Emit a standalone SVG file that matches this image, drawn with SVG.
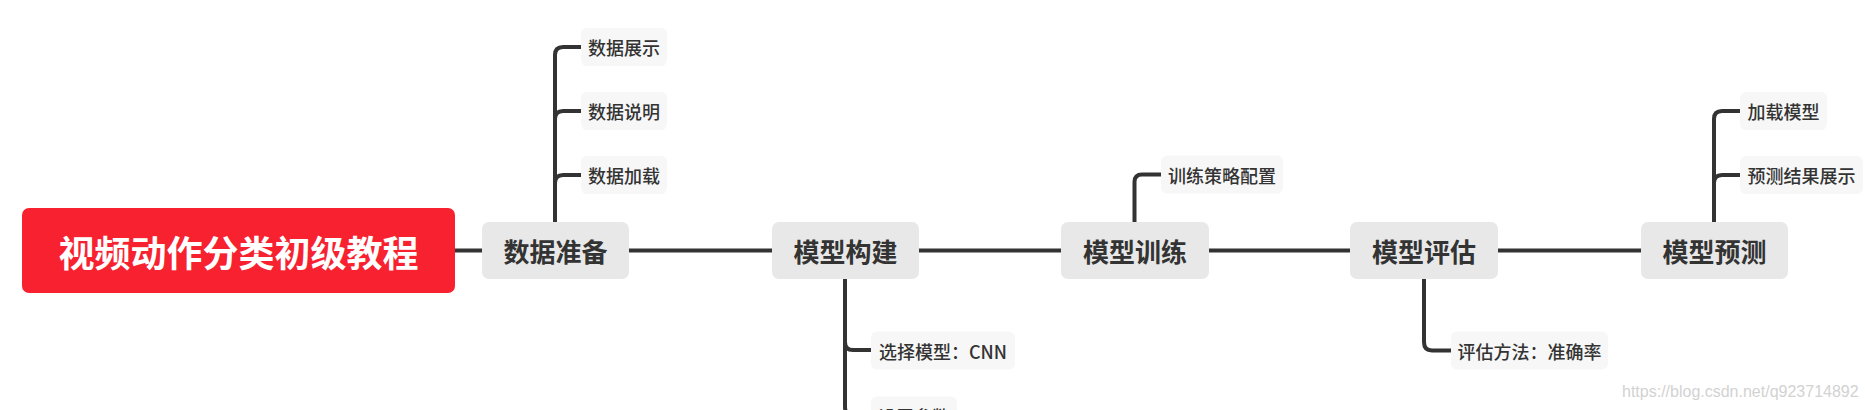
<svg xmlns="http://www.w3.org/2000/svg" width="1865" height="410" viewBox="0 0 1865 410">
<style>
text{font-family:"Noto Sans CJK SC","Noto Sans",sans-serif;text-anchor:middle;dominant-baseline:central}
.main rect{fill:#e8e8e8}
.main text{font-size:26px;font-weight:700;fill:#333}
.sub rect{fill:#f7f7f7}
.sub text{font-size:18px;font-weight:500;fill:#333}
.conn path{fill:none;stroke:#333;stroke-width:4;stroke-linecap:butt}
.wm{font-family:"Liberation Sans",Arial,sans-serif;font-size:16px;fill:#d2d2d2;text-anchor:start}
</style>
<rect width="1865" height="410" fill="#fff"/>
<g class="conn" id="connectors">
<path d="M455 250.5H1641"/>
<path d="M555 222V55Q555 47 563 47H581"/>
<path d="M555 222V119Q555 111 563 111H581"/>
<path d="M555 222V183Q555 175 563 175H581"/>
<path d="M845 279V342Q845 350 853 350H871"/>
<path d="M845 279V407Q845 415 853 415H871"/>
<path d="M1134.5 222V182Q1134.5 174.5 1142 174.5H1161"/>
<path d="M1424 279V342Q1424 350.5 1432 350.5H1451"/>
<path d="M1714 222V119Q1714 111 1722 111H1740"/>
<path d="M1714 222V183Q1714 175 1722 175H1740"/>
</g>
<g id="root"><rect x="22" y="208" width="433" height="85" rx="7" fill="#f7212f"/><text x="238.5" y="250.5" font-size="36" font-weight="700" fill="#fff">视频动作分类初级教程</text></g>
<g id="n1" class="main"><rect x="482" y="222" width="147" height="57" rx="7"/><text x="555.5" y="250.5">数据准备</text></g>
<g id="n2" class="main"><rect x="772" y="222" width="147" height="57" rx="7"/><text x="845.5" y="250.5">模型构建</text></g>
<g id="n3" class="main"><rect x="1061" y="222" width="148" height="57" rx="7"/><text x="1135" y="250.5">模型训练</text></g>
<g id="n4" class="main"><rect x="1350" y="222" width="148" height="57" rx="7"/><text x="1424" y="250.5">模型评估</text></g>
<g id="n5" class="main"><rect x="1641" y="222" width="147" height="57" rx="7"/><text x="1714.5" y="250.5">模型预测</text></g>
<g id="s11" class="sub"><rect x="581" y="28" width="86" height="38" rx="6"/><text x="624" y="47">数据展示</text></g>
<g id="s12" class="sub"><rect x="581" y="92" width="86" height="38" rx="6"/><text x="624" y="111">数据说明</text></g>
<g id="s13" class="sub"><rect x="581" y="156" width="86" height="38" rx="6"/><text x="624" y="175">数据加载</text></g>
<g id="s21" class="sub"><rect x="871" y="331.5" width="144" height="38" rx="6"/><text x="943" y="350.5">选择模型：CNN</text></g>
<g id="s22" class="sub"><rect x="871" y="396.5" width="86" height="38" rx="6"/><text x="914" y="415.5">设置参数</text></g>
<g id="s31" class="sub"><rect x="1161" y="155.5" width="122" height="38" rx="6"/><text x="1222" y="174.5">训练策略配置</text></g>
<g id="s41" class="sub"><rect x="1451" y="331.5" width="157" height="38" rx="6"/><text x="1529.5" y="350.5">评估方法：准确率</text></g>
<g id="s51" class="sub"><rect x="1740" y="92" width="87" height="38" rx="6"/><text x="1783.5" y="111">加载模型</text></g>
<g id="s52" class="sub"><rect x="1740" y="156" width="123" height="38" rx="6"/><text x="1801.5" y="175">预测结果展示</text></g>
<text class="wm" x="1622" y="391">https://blog.csdn.net/q923714892</text>
</svg>
